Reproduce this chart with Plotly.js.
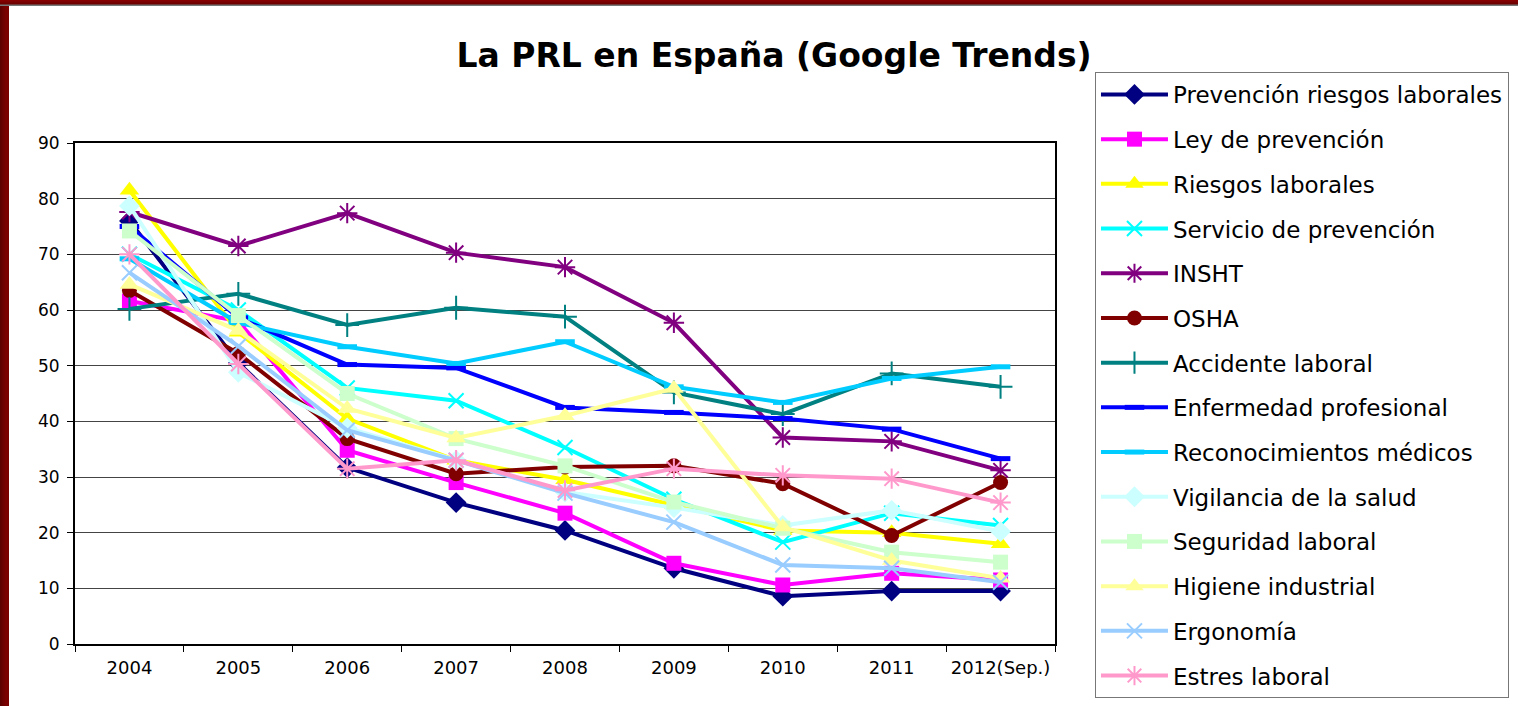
<!DOCTYPE html>
<html>
<head>
<meta charset="utf-8">
<script src="https://cdn.plot.ly/plotly-3.0.1.min.js"></script>
<style>
html,body{margin:0;padding:0;width:1518px;height:706px;overflow:hidden;
background:linear-gradient(to right,#5a0000,#7a0000 6px,#7a0000);}
#frame{position:absolute;left:0;top:0;width:1518px;height:6px;background:linear-gradient(to bottom,#8a0000,#6a0000 4px,#777 5px,#777);}
#chart{position:absolute;left:9px;top:6px;width:1509px;height:700px;background:#fff;}
</style>
</head>
<body>
<div id="frame"></div>
<div id="chart"></div>
<script>
const years = ["2004","2005","2006","2007","2008","2009","2010","2011","2012(Sep.)"];

const prevencionRiesgos = [76, 50.5, 31.7, 25.4, 20.4, 13.6, 8.6, 9.5, 9.5];
const leyPrevencion     = [61.6, 58, 34.8, 29, 23.5, 14.5, 10.6, 12.7, 11.5];
const riesgosLaborales  = [81.5, 56, 40.5, 33, 29.5, 25, 20.4, 20, 18];
const servicioPrev      = [70, 60, 46, 43.7, 35.3, 26, 18.3, 23.5, 21.3];
const insht             = [77.6, 71.5, 77.4, 70.3, 67.7, 57.7, 37.1, 36.4, 31.2];
const osha              = [63.5, 52.2, 36.9, 30.6, 31.8, 32, 28.8, 19.5, 29];
const accidente         = [60.2, 62.9, 57.3, 60.4, 58.8, 45.2, 41.3, 48.6, 46.2];
const enfermedad        = [75, 58.6, 50.2, 49.6, 42.5, 41.6, 40.5, 38.6, 33.3];
const reconocimientos   = [69.2, 57.7, 53.4, 50.4, 54.3, 46.2, 43.4, 47.7, 49.8];
const vigilancia        = [78.7, 48.8, 38.8, 33, 27.3, 24.5, 21.3, 24, 20.2];
const seguridad         = [74.2, 59, 45, 36.9, 32, 25.5, 20.8, 16.5, 14.7];
const higiene           = [64.6, 56.3, 42.3, 37, 41, 45.9, 21, 15, 11.8];
const ergonomia         = [66.7, 53.5, 38.4, 33, 27.1, 21.9, 14.2, 13.6, 11.1];
const estres            = [70, 50.3, 31.5, 33, 27.6, 31.5, 30.3, 29.7, 25.4];

const names = ["Prevención riesgos laborales","Ley de prevención","Riesgos laborales",
"Servicio de prevención","INSHT","OSHA","Accidente laboral","Enfermedad profesional",
"Reconocimientos médicos","Vigilancia de la salud","Seguridad laboral","Higiene industrial",
"Ergonomía","Estres laboral"];
const seriesData = [prevencionRiesgos, leyPrevencion, riesgosLaborales, servicioPrev, insht, osha,
accidente, enfermedad, reconocimientos, vigilancia, seguridad, higiene, ergonomia, estres];
const colors = ["#000080","#FF00FF","#FFFF00","#00FFFF","#800080","#800000","#008080",
"#0000FF","#00CCFF","#CCFFFF","#CCFFCC","#FFFF99","#99CCFF","#FF99CC"];
const symbols = ["diamond","square","triangle-up","x-thin-open","asterisk-open","circle",
"cross-thin-open","line-ew-open","line-ew-open","diamond","square","triangle-up","x-thin-open","asterisk-open"];
const sizes = [16,15,17,15,17,15,17,14,14,16,15,17,15,17];

const FONT = '"DejaVu Sans", Verdana, sans-serif';

const traces = names.map((n,i)=>({
  type:'scatter', mode:'lines+markers', name:n, x:years, y:seriesData[i],
  legendgroup:'g'+i,
  line:{color:colors[i], width:4},
  marker:{symbol:symbols[i], size:sizes[i], color:colors[i],
    line:{color:colors[i], width: symbols[i].indexOf('open')>=0 ? (symbols[i].startsWith('line') ? 5 : 2) : 0}}
}));

const layout = {
  width:1509, height:700,
  paper_bgcolor:'#fff', plot_bgcolor:'#fff',
  margin:{l:66, r:463, t:137, b:62, autoexpand:false},
  font:{family:FONT, color:'#000'},
  title:{text:'<b>La PRL en España (Google Trends)</b>', font:{size:33, family:FONT, color:'#000'},
    xref:'container', yref:'container', x:0.507, xanchor:'center', y:0.93, yanchor:'middle'},
  xaxis:{type:'category', categoryorder:'array', categoryarray:years,
    tickson:'boundaries', ticks:'outside', ticklen:6, tickcolor:'#000', tickwidth:1,
    showline:true, linecolor:'#000', linewidth:2, mirror:true, showgrid:false,
    tickfont:{size:18}, ticklabelstandoff:6, range:[-0.5,8.5], automargin:false},
  yaxis:{range:[0,90], dtick:10, tick0:0, ticks:'outside', ticklen:6, tickcolor:'#000',
    showline:true, linecolor:'#000', linewidth:2, mirror:true, ticklabelstandoff:4,
    showgrid:true, gridcolor:'#444', gridwidth:1, zeroline:false, tickfont:{size:17}, automargin:false},
  showlegend:true,
  legend:{x:1.0408, xanchor:'left', y:1.1417, yanchor:'top',
    bordercolor:'#777', borderwidth:1, bgcolor:'#fff', maxheight:700,
    font:{size:23, family:FONT}, itemwidth:67, tracegroupgap:11.8, traceorder:'grouped'}
};
Plotly.newPlot('chart', traces, layout, {displayModeBar:false, staticPlot:true});
</script>
</body>
</html>
